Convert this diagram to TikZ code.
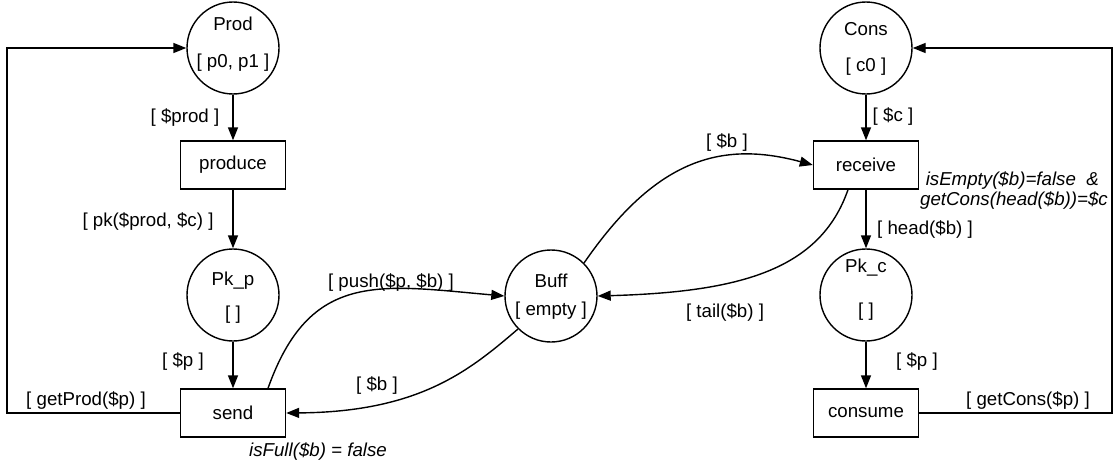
\documentclass[tikz,border=0pt]{standalone}
\usepackage{fontspec}
\setmainfont{Liberation Sans}
\usetikzlibrary{arrows.meta}
\begin{document}
\begin{tikzpicture}[x=1pt,y=-1pt,
  txt/.style={font=\fontsize{18.7}{22}\selectfont, inner sep=0pt},
  gtxt/.style={font=\fontsize{18.7}{22}\selectfont\itshape, inner sep=0pt},
  place/.style={draw, circle, line width=1.4pt, minimum size=92pt, inner sep=0pt},
  trans/.style={draw, rectangle, line width=1.4pt, minimum width=105pt, minimum height=48pt, inner sep=0pt, font=\fontsize{18.7}{22}\selectfont},
  arc/.style={line width=1.4pt, -{Triangle[length=13pt,width=10pt]}}]
\useasboundingbox (0,0) rectangle (1119,463);
% places
\node[place] (prod) at (233,48) {};
\node[txt] (prodname) at (233,24) {Prod};
\node[txt] (prodtok) at (233,63) {[ p0, p1 ]};
\node[place] (pkp) at (233,295) {};
\node[txt] (pkpname) at (233,281) {Pk\_p};
\node[txt] (pkptok) at (233,315) {[ ]};
\node[place] (buff) at (551,296) {};
\node[txt] (buffname) at (551,281) {Buff};
\node[txt] (bufftok) at (551,311) {[ empty ]};
\node[place] (cons) at (866,48) {};
\node[txt] (consname) at (866,29) {Cons};
\node[txt] (constok) at (866,67) {[ c0 ]};
\node[place] (pkc) at (866,295) {};
\node[txt] (pkcname) at (866,268) {Pk\_c};
\node[txt] (pkctok) at (866,312) {[ ]};
% transitions
\node[trans] (produce) at (233,165) {produce};
\node[trans] (send) at (233,413) {send};
\node[trans] (receive) at (866,165) {receive};
\node[trans] (consume) at (866,413) {consume};
% loop corners
\coordinate (lc) at (7,413);
\coordinate (rc) at (1112,413);
% arcs
\draw[arc] (prod) -- (produce);
\draw[arc] (produce) -- (pkp);
\draw[arc] (pkp) -- (send);
\draw[arc] (send.west) -- (lc) |- (prod.west);
\draw[arc] (cons) -- (receive);
\draw[arc] (receive) -- (pkc);
\draw[arc] (pkc) -- (consume);
\draw[arc] (consume.east) -- (rc) |- (cons.east);
\draw[arc] ([xshift=35pt]send.north) .. controls (310,270) and (380,285) .. (buff.west);
\draw[arc] (buff.225) .. controls (470,370) and (420,412) .. (send.east);
\draw[arc] (buff.45) .. controls (655,160) and (720,140) .. (receive.west);
\draw[arc] ([xshift=-18pt]receive.south) .. controls (820,270) and (740,292) .. (buff.east);
% labels
\node[txt] (l1) at (185,118) {[ \$prod ]};
\node[txt] (l2) at (148,222) {[ pk(\$prod, \$c) ]};
\node[txt] (l3) at (183,362) {[ \$p ]};
\node[txt] (l4) at (86,401) {[ getProd(\$p) ]};
\node[gtxt] (g1) at (318,452) {isFull(\$b) = false};
\node[txt] (l5) at (391,283) {[ push(\$p, \$b) ]};
\node[txt] (l6) at (377,386) {[ \$b ]};
\node[txt] (l7) at (727,143) {[ \$b ]};
\node[txt] (l8) at (725,313) {[ tail(\$b) ]};
\node[txt] (l9) at (893,117) {[ \$c ]};
\node[gtxt, anchor=east] (g2) at (1099,181) {isEmpty(\$b)=false\ \ \&};
\node[gtxt, anchor=east] (g3) at (1108,201) {getCons(head(\$b))=\$c};
\node[txt] (l10) at (925,230) {[ head(\$b) ]};
\node[txt] (l11) at (917,362) {[ \$p ]};
\node[txt] (l12) at (1028,401) {[ getCons(\$p) ]};
\end{tikzpicture}
\end{document}
